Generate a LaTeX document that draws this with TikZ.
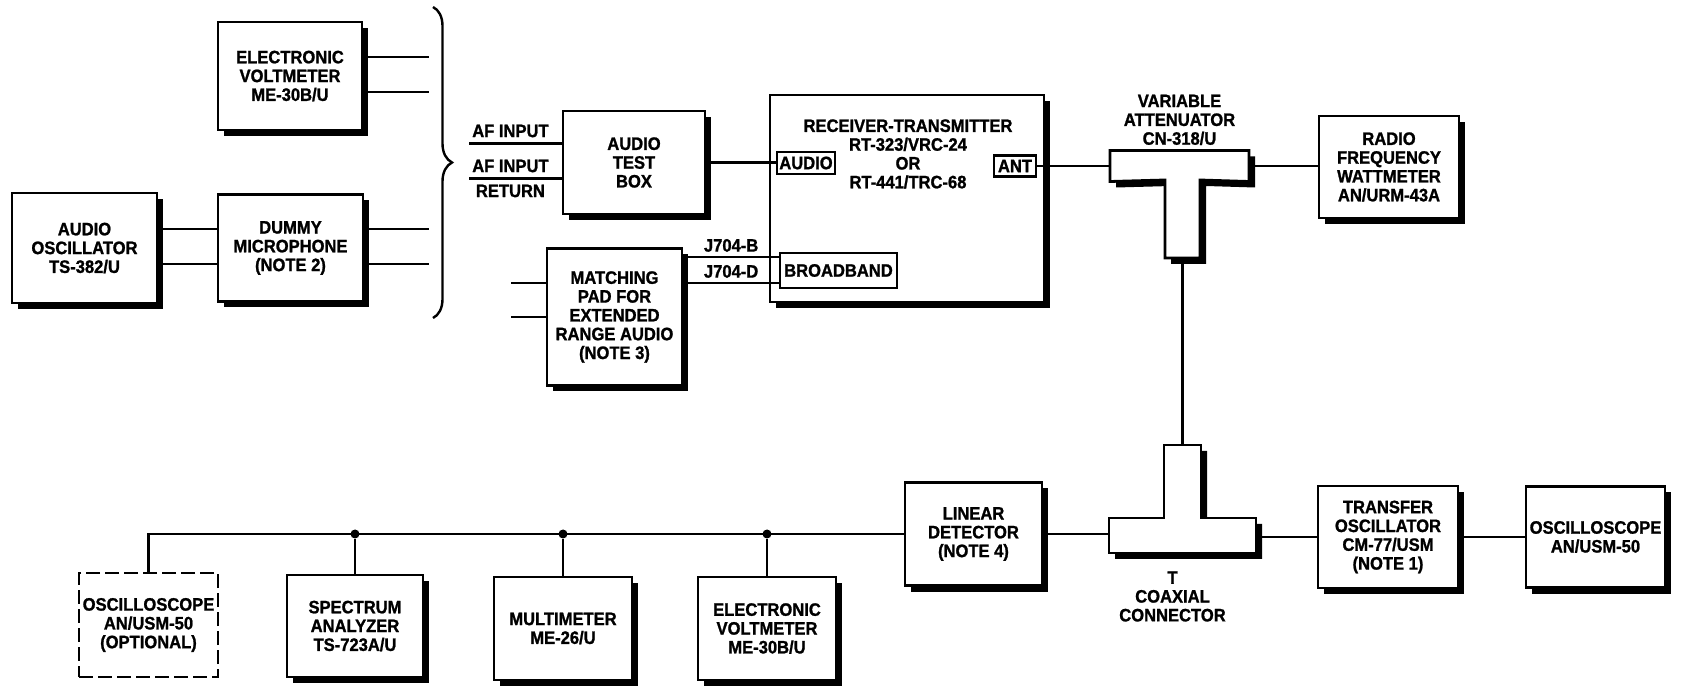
\documentclass[tikz,border=0pt]{standalone}
\usepackage{fontspec}
\setmainfont{Liberation Sans}[FakeStretch=0.92, BoldFont={Liberation Sans Bold}, BoldFeatures={FakeBold=1.2, FakeStretch=0.92}]
\usepackage{tikz}
\usetikzlibrary{positioning,shadows,decorations.pathreplacing}

\begin{document}
\begin{tikzpicture}[
    x=0.5pt, y=-0.5pt,
    font=\fontsize{9}{9.4}\selectfont\bfseries,
    block/.style={rectangle, draw=black, line width=1.4pt, fill=white, align=center, inner sep=0pt,
      minimum width=69.5pt, minimum height=51.5pt,
      drop shadow={shadow xshift=3pt, shadow yshift=-3pt, fill=black, opacity=1}},
    optblock/.style={rectangle, draw=black, line width=1.4pt, dash pattern=on 7pt off 2.5pt, align=center,
      inner sep=0pt, minimum width=69.5pt, minimum height=52pt},
    port/.style={rectangle, draw=black, line width=1.1pt, fill=white, inner sep=0pt},
    tpart/.style={rectangle, inner sep=0pt, outer sep=0pt},
    lbl/.style={align=center, inner sep=0pt},
    wire/.style={line width=1.2pt},
    junction/.style={circle, fill=black, inner sep=0pt, minimum size=4.5pt},
    brc/.style={decorate, decoration={brace, amplitude=9.5pt}, line width=1.2pt}
  ]
    \useasboundingbox (0,0) rectangle (1682,689);

    % Audio sources
    \node[block, minimum width=72pt, minimum height=54pt] (ev1) at (290,76) {ELECTRONIC\\VOLTMETER\\ME-30B/U};
    \node[block, minimum width=72.5pt, minimum height=55pt] (ao) at (84.5,248) {AUDIO\\OSCILLATOR\\TS-382/U};
    \node[block, minimum width=72.5pt, minimum height=53.5pt] (dm) at (290.5,248) {DUMMY\\MICROPHONE\\(NOTE 2)};
    \coordinate (brtop) at (433,7);
    \coordinate (brbot) at (433,318);
    \draw[brc] (brtop) -- (brbot);

    % Audio inputs
    \node[block, minimum width=71pt] (atb) at (634,162.5) {AUDIO\\TEST\\BOX};
    \node[block, minimum width=67.5pt, minimum height=68.5pt] (mp) at (614.5,317) {MATCHING\\PAD FOR\\EXTENDED\\RANGE AUDIO\\(NOTE 3)};

    % Receiver-transmitter
    \node[block, minimum width=137pt, minimum height=103.5pt] (rt) at (907,198.5) {};
    \node[lbl] (rtlbl) at (908,154) {RECEIVER-TRANSMITTER\\RT-323/VRC-24\\OR\\RT-441/TRC-68};
    \node[port, minimum width=29pt, minimum height=11pt] (aud) at (806,163) {AUDIO};
    \node[port, minimum width=21pt, minimum height=10.5pt] (ant) at (1015,166) {ANT};
    \node[port, minimum width=58.5pt, minimum height=17.5pt] (bb) at (838.5,270.5) {BROADBAND};

    % Variable attenuator
    \node[tpart, minimum width=69.5pt, minimum height=15.5pt] (attbar) at (1179.5,166) {};
    \node[tpart, minimum width=17.5pt, minimum height=39pt] (attstem) at (1182.5,219) {};
    \fill[transform canvas={xshift=3pt, yshift=-3pt}] (attbar.north west) -- (attbar.north east) -- (attbar.south east)
      -- (attstem.north east) -- (attstem.south east) -- (attstem.south west) -- (attstem.north west)
      -- (attbar.south west) -- cycle;
    \filldraw[fill=white, line width=1.4pt] (attbar.north west) -- (attbar.north east) -- (attbar.south east)
      -- (attstem.north east) -- (attstem.south east) -- (attstem.south west) -- (attstem.north west)
      -- (attbar.south west) -- cycle;
    \node[lbl, above=2.5pt of attbar] (attlbl) {VARIABLE\\ATTENUATOR\\CN-318/U};

    \node[block, minimum width=70pt, minimum height=51pt] (wm) at (1389,167) {RADIO\\FREQUENCY\\WATTMETER\\AN/URM-43A};

    % T coaxial connector
    \node[tpart, minimum width=18.5pt, minimum height=36.5pt] (cstem) at (1182.5,481.5) {};
    \node[tpart, minimum width=73.5pt, minimum height=17.5pt] (cbar) at (1182.5,535.5) {};
    \fill[transform canvas={xshift=3pt, yshift=-3pt}] (cstem.north west) -- (cstem.north east) -- (cstem.south east)
      -- (cbar.north east) -- (cbar.south east) -- (cbar.south west) -- (cbar.north west)
      -- (cstem.south west) -- cycle;
    \filldraw[fill=white, line width=1.4pt] (cstem.north west) -- (cstem.north east) -- (cstem.south east)
      -- (cbar.north east) -- (cbar.south east) -- (cbar.south west) -- (cbar.north west)
      -- (cstem.south west) -- cycle;
    \node[lbl, below=9pt of cbar, xshift=-5pt] (cxlbl) {T\\COAXIAL\\CONNECTOR};

    % Measuring chain
    \node[block, minimum width=68.5pt] (ld) at (973.5,534) {LINEAR\\DETECTOR\\(NOTE 4)};
    \node[block, minimum width=70pt, minimum height=51pt] (to) at (1388,537) {TRANSFER\\OSCILLATOR\\CM-77/USM\\(NOTE 1)};
    \node[block, minimum height=50.5pt] (osc) at (1595.5,537) {OSCILLOSCOPE\\AN/USM-50};

    \node[optblock] (oscopt) at (148.5,625) {OSCILLOSCOPE\\AN/USM-50\\(OPTIONAL)};
    \node[block, minimum width=68pt, minimum height=51pt] (sa) at (355,626) {SPECTRUM\\ANALYZER\\TS-723A/U};
    \node[block, minimum width=69pt] (mm) at (563,628.5) {MULTIMETER\\ME-26/U};
    \node[block, minimum width=69pt] (ev2) at (767,628.5) {ELECTRONIC\\VOLTMETER\\ME-30B/U};

    % Connections
    \draw[wire] ([yshift=9.5pt]ev1.east) -- ++(66,0);
    \draw[wire] ([yshift=-8pt]ev1.east) -- ++(66,0);
    \draw[wire] ([yshift=9.5pt]ao.east) -- ([yshift=9.5pt]ao.east -| dm.west);
    \draw[wire] ([yshift=-8pt]ao.east) -- ([yshift=-8pt]ao.east -| dm.west);
    \draw[wire] ([yshift=9.5pt]dm.east) -- ++(65,0);
    \draw[wire] ([yshift=-8pt]dm.east) -- ++(65,0);

    \draw[wire] ([yshift=9.5pt]atb.west) -- ++(-93,0) node[pos=0.55, above=2.5pt, lbl] {AF INPUT};
    \draw[wire] ([yshift=-8pt]atb.west) -- ++(-93,0) node[pos=0.55, above=2.5pt, lbl] {AF INPUT}
      node[pos=0.55, below=2.5pt, lbl] {RETURN};
    \draw[wire] (atb.east) -- (atb.east -| aud.west);

    \draw[wire] ([yshift=17pt]mp.west) -- ++(-35,0);
    \draw[wire] (mp.west) -- ++(-35,0);
    \draw[wire] ([yshift=30pt]mp.east) -- ([yshift=30pt]mp.east -| bb.west) node[midway, above=2pt, lbl] {J704-B};
    \draw[wire] ([yshift=17pt]mp.east) -- ([yshift=17pt]mp.east -| bb.west) node[midway, above=2pt, lbl] {J704-D};

    \draw[wire] (ant.east) -- (ant.east -| attbar.west);
    \draw[wire] (attbar.east) -- (attbar.east -| wm.west);
    \draw[wire] (attstem.south) -- (cstem.north);

    \draw[wire] (ld.east) -- (ld.east -| cbar.west);
    \draw[wire] (to.west -| cbar.east) -- (to.west);
    \draw[wire] (to) -- (osc);

    \draw[wire] (oscopt.north) |- (ld.west);
    \node[junction] (jsa) at (sa.north |- ld.west) {};
    \node[junction] (jmm) at (mm.north |- ld.west) {};
    \node[junction] (jev) at (ev2.north |- ld.west) {};
    \draw[wire] (jsa) -- (sa);
    \draw[wire] (jmm) -- (mm);
    \draw[wire] (jev) -- (ev2);
\end{tikzpicture}
\end{document}
